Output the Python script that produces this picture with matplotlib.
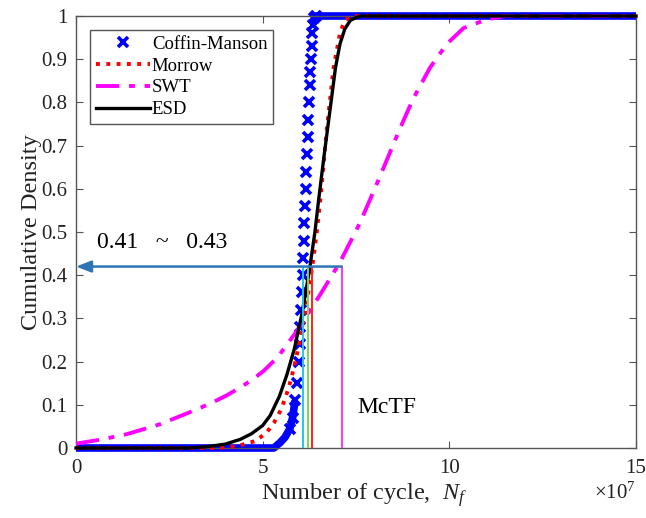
import numpy as np
import matplotlib
matplotlib.use("Agg")
import matplotlib.pyplot as plt

plt.rcParams['font.family'] = ['Liberation Serif', 'DejaVu Serif']
plt.rcParams['mathtext.fontset'] = 'custom'
plt.rcParams['mathtext.rm'] = 'Liberation Serif'
plt.rcParams['mathtext.it'] = 'Liberation Serif:italic'

# ---- data (x in units of 1e7 cycles) ----
cm_x = [0.0, 5.30, 5.46, 5.60, 5.73, 5.80, 5.87, 5.92, 5.96, 5.99,
        6.01, 6.03, 6.05, 6.07, 6.08, 6.10, 6.12, 6.13, 6.15, 6.17,
        6.19, 6.21, 6.22, 6.24, 6.26, 6.28, 6.30, 6.31, 6.33, 6.35,
        6.38, 6.42, 15.0]
cm_y = [0.0, 0.0, 0.012, 0.025, 0.045, 0.07, 0.11, 0.15, 0.20, 0.24,
        0.28, 0.32, 0.36, 0.40, 0.44, 0.48, 0.52, 0.56, 0.60, 0.64,
        0.68, 0.72, 0.76, 0.80, 0.84, 0.87, 0.90, 0.93, 0.96, 0.98,
        0.995, 1.0, 1.0]

morrow_x = [0.0, 3.8, 4.3, 4.8, 5.1, 5.3, 5.5, 5.7, 5.85, 6.0, 6.15, 6.33,
            6.45, 6.55, 6.72, 6.9, 7.07, 7.2, 7.4, 15.0]
morrow_y = [0.0, 0.0, 0.004, 0.016, 0.035, 0.058, 0.09, 0.14, 0.19, 0.25, 0.32, 0.42,
            0.50, 0.58, 0.74, 0.88, 0.96, 0.99, 1.0, 1.0]

swt_x = [0.0, 0.7, 1.36, 2.25, 3.14, 3.6, 4.04, 4.4, 4.75, 5.02, 5.4, 5.91, 6.54,
         7.07, 7.6, 8.1, 8.68, 9.04, 9.48, 9.93, 10.38, 11.0, 11.5, 15.0]
swt_y = [0.01, 0.02, 0.032, 0.055, 0.086, 0.103, 0.122, 0.14, 0.16, 0.178, 0.21, 0.27, 0.355,
         0.43, 0.52, 0.62, 0.74, 0.81, 0.88, 0.935, 0.972, 0.992, 1.0, 1.0]

esd_x = [0.0, 3.0, 3.5, 4.0, 4.4, 4.7, 5.0, 5.2, 5.45, 5.65, 5.85, 6.05, 6.25,
         6.4, 6.5, 6.65, 6.8, 6.95, 7.07, 7.2, 7.35, 7.6, 15.0]
esd_y = [0.0, 0.0, 0.003, 0.009, 0.02, 0.033, 0.052, 0.075, 0.12, 0.17, 0.23, 0.31, 0.41,
         0.50, 0.575, 0.68, 0.78, 0.88, 0.935, 0.97, 0.99, 1.0, 1.0]

mctf_x = [6.09, 6.22, 6.32, 7.12]
mctf_colors = ['#1ec8f0', '#7fd15a', '#ff2020', '#ff33ff']
mctf_level = 0.42

labels = ['Coffin-Manson', 'Morrow', 'SWT', 'ESD']
yticks = [0, 0.1, 0.2, 0.3, 0.4, 0.5, 0.6, 0.7, 0.8, 0.9, 1]
ytick_labels = ['0', '0.1', '0.2', '0.3', '0.4', '0.5', '0.6', '0.7', '0.8', '0.9', '1']
xticks = [0, 5, 10, 15]
xtick_labels = ['0', '5', '10', '15']

fig = plt.figure(figsize=(6.46, 5.18), dpi=100)
ax = fig.add_axes([76/646, 1-448/518, 560/646, 432/518])

cmx = np.array(cm_x); cmy = np.array(cm_y)
low = cmx <= 5.87
high = cmx >= 6.35
ax.plot(cmx[low], cmy[low], '-', color='#0000ff', lw=5.5, solid_capstyle='butt', clip_on=False, zorder=2)
ax.plot(cmx[high], cmy[high], '-', color='#0000ff', lw=5.5, solid_capstyle='butt', clip_on=False, zorder=2)
mid = (cmx > 5.6) & (cmx < 6.45)
ax.plot(cmx[mid], cmy[mid], 'x', color='#0000ff', ms=7, mew=2.6, clip_on=False, zorder=2)
h_cm, = ax.plot([], [], 'x', color='#0000ff', ms=7, mew=2.6, label=labels[0])

h_mo, = ax.plot(morrow_x, morrow_y, ':', color='#ff0000', lw=2.8, clip_on=False, zorder=3, label=labels[1])
h_sw, = ax.plot(swt_x, swt_y, '-.', color='#ff00ff', lw=2.8, dashes=(6, 2.5, 1.5, 2.5), clip_on=False, zorder=3, label=labels[2])
h_es, = ax.plot(esd_x, esd_y, '-', color='#000000', lw=2.4, clip_on=False, zorder=4, label=labels[3])

for xv, c in zip(mctf_x, mctf_colors):
    ax.plot([xv, xv], [0, mctf_level], '-', color=c, lw=1.4, zorder=5)

ax.annotate('', xy=(0, mctf_level), xytext=(mctf_x[-1], mctf_level),
            arrowprops=dict(arrowstyle='-|>,head_length=0.9,head_width=0.35',
                            color='#2e75b6', lw=1.8, shrinkA=0, shrinkB=0),
            zorder=6, annotation_clip=False)

ax.text(0.55, 0.475, '0.41   ~   0.43', fontsize=17, ha='left', va='center')
ax.text(7.53, 0.093, 'McTF', fontsize=17, ha='left', va='center')

ax.set_xlim(0, 15)
ax.set_ylim(0, 1)
ax.set_xticks(xticks)
ax.set_xticklabels(xtick_labels)
ax.set_yticks(yticks)
ax.set_yticklabels(ytick_labels)
ax.tick_params(direction='in', length=5, width=0.8, colors='#555555', labelcolor='#222222',
               labelsize=15, top=True, right=True)
ax.tick_params(axis='y', pad=6)
ax.tick_params(axis='x', pad=8)
for s in ax.spines.values():
    s.set_color('#555555')
    s.set_linewidth(1.0)

ax.set_xlabel('Number of cycle,  $N_f$', fontsize=17.5, color='#222222')
ax.xaxis.set_label_coords(0.515, -0.076)
ax.xaxis.label.set_va('top')
ax.set_ylabel('Cumulative Density', fontsize=17.5, color='#222222', labelpad=0)
ax.text(1.0, -0.105, r'$\times10^{7}$', transform=ax.transAxes, ha='right', va='center',
        fontsize=15, color='#222222')

leg = ax.legend(handles=[h_cm, h_mo, h_sw, h_es], loc='upper left',
                bbox_to_anchor=(14/560, 1-14/432), fontsize=13.5, handlelength=2.9,
                handletextpad=0.1, labelspacing=0.25, borderpad=0.3, borderaxespad=0,
                fancybox=False, framealpha=1, edgecolor='#555555')
leg.get_frame().set_linewidth(1.0)

fig.savefig('out.png', dpi=100)
